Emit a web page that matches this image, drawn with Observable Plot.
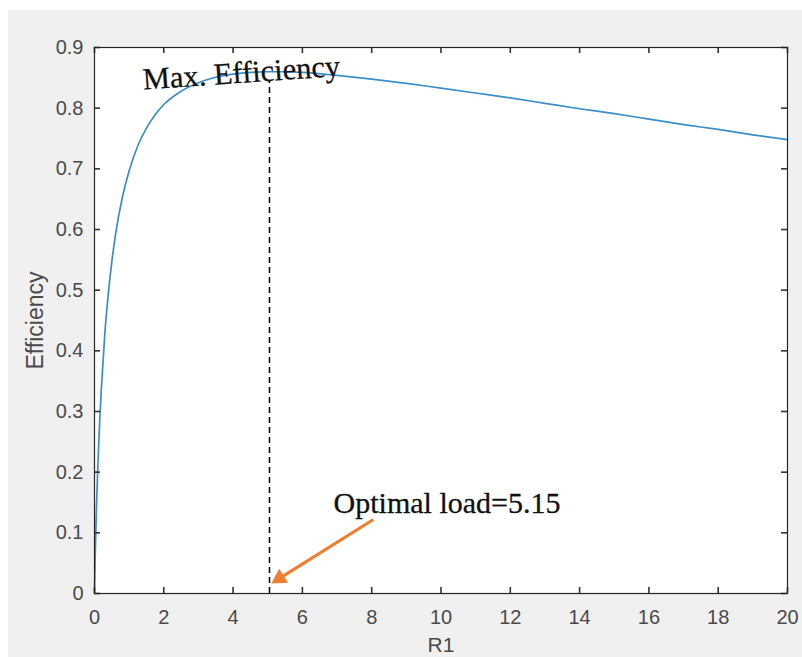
<!DOCTYPE html>
<html>
<head>
<meta charset="utf-8">
<script src="https://cdn.jsdelivr.net/npm/d3@7"></script>
<script src="https://cdn.jsdelivr.net/npm/@observablehq/plot@0.6"></script>
<style>
  body { margin: 10px 0 0 8px; background: #ffffff; }
  #chart svg { display: block; }
</style>
</head>
<body>
<div id="chart"></div>
<script>
// Load resistance R1 and efficiency
const r1 = [0, 0.02, 0.05, 0.1, 0.15, 0.2, 0.3, 0.4, 0.5, 0.6, 0.8, 1.0, 1.25, 1.5, 1.75, 2, 2.5, 3, 3.5, 4, 4.5, 5, 5.5, 6, 7, 8, 9, 10, 11, 12, 13, 14, 15, 16, 17, 18, 19, 20];
const efficiency = [0, 0.06, 0.13, 0.215, 0.285, 0.34, 0.43, 0.495, 0.547, 0.589, 0.652, 0.697, 0.738, 0.767, 0.789, 0.806, 0.828, 0.842, 0.851, 0.856, 0.859, 0.860, 0.860, 0.859, 0.854, 0.848, 0.841, 0.833, 0.825, 0.817, 0.808, 0.799, 0.791, 0.782, 0.773, 0.765, 0.756, 0.748];

const xTicks = [0, 2, 4, 6, 8, 10, 12, 14, 16, 18, 20];
const yTicks = [0, 0.1, 0.2, 0.3, 0.4, 0.5, 0.6, 0.7, 0.8, 0.9];

// Annotations
const optimalR = [5.05];
const optimalTop = [0.845];
const maxLabel = ["Max. Efficiency"];
const maxLabelPos = [4.24, 0.858];
const optLabel = ["Optimal load=5.15"];
const optLabelPos = [6.9, 0.149];
const arrowFrom = [8.05, 0.122];
const arrowHead = [5.34, 0.025];
const arrowAngle = [237.8];

const curve = r1.map((x, i) => ({x, y: efficiency[i]}));
const fmtY = d => d === 0 ? "0" : d.toFixed(1);

const W = 794, H = 647, ML = 86, MT = 37, MR = 15, MB = 64;
const innerW = W - ML - MR, innerH = H - MT - MB;
const tickLen = 6;
const xMax = 20, yMax = 0.9;
const tickDy = yMax * tickLen / innerH;   // tick length in y units
const tickDx = xMax * tickLen / innerW;   // tick length in x units

const tickColor = "#333333";
const labelColor = "#4a4a4a";
const serif = "'Liberation Serif', 'Times New Roman', serif";
const orange = "#ef7f2f";

const chart = Plot.plot({
  width: W,
  height: H,
  marginLeft: ML,
  marginTop: MT,
  marginRight: MR,
  marginBottom: MB,
  style: {background: "#f0f0f0", fontFamily: "'Liberation Sans', Arial, sans-serif", overflow: "visible"},
  x: {domain: [0, xMax]},
  y: {domain: [0, yMax]},
  marks: [
    Plot.frame({fill: "white"}),
    Plot.line(curve, {x: "x", y: "y", stroke: "#3a8fc8", strokeWidth: 1.7, curve: "monotone-x"}),
    Plot.ruleX(optimalR, {x: d => d, y1: 0, y2: optimalTop[0], stroke: "#000", strokeWidth: 1.5, strokeDasharray: "6,4"}),
    Plot.link([0], {x1: arrowFrom[0], y1: arrowFrom[1], x2: arrowHead[0], y2: arrowHead[1], stroke: orange, strokeWidth: 3.2}),
    Plot.dot([0], {x: arrowHead[0], y: arrowHead[1], symbol: "triangle2", r: 8, fill: orange, stroke: "none", rotate: arrowAngle[0]}),
    Plot.text(maxLabel, {x: maxLabelPos[0], y: maxLabelPos[1], text: d => d, rotate: -4, fontFamily: serif, fontSize: 30.5, fill: "#111", stroke: "#111", strokeWidth: 0.3}),
    Plot.text(optLabel, {x: optLabelPos[0], y: optLabelPos[1], text: d => d, textAnchor: "start", fontFamily: serif, fontSize: 30, fill: "#111", stroke: "#111", strokeWidth: 0.3}),
    // tick labels
    Plot.axisX({ticks: xTicks, tickSize: 0, tickPadding: 16, fontSize: 20, color: labelColor, label: null}),
    Plot.axisY({ticks: yTicks, tickSize: 0, tickPadding: 11, fontSize: 20, color: labelColor, tickFormat: fmtY, label: null}),
    // inward ticks on all four sides
    Plot.ruleX(xTicks, {x: d => d, y1: 0, y2: tickDy, stroke: tickColor, strokeWidth: 1.6}),
    Plot.ruleX(xTicks, {x: d => d, y1: yMax - tickDy, y2: yMax, stroke: tickColor, strokeWidth: 1.6}),
    Plot.ruleY(yTicks, {y: d => d, x1: 0, x2: tickDx, stroke: tickColor, strokeWidth: 1.6}),
    Plot.ruleY(yTicks, {y: d => d, x1: xMax - tickDx, x2: xMax, stroke: tickColor, strokeWidth: 1.6}),
    // axis titles
    Plot.text(["R1"], {frameAnchor: "bottom", dy: 52, lineAnchor: "middle", textAnchor: "middle", text: d => d, fontSize: 21, fill: labelColor}),
    Plot.text(["Efficiency"], {frameAnchor: "left", dx: -59, textAnchor: "middle", lineAnchor: "middle", text: d => d, rotate: -90, fontSize: 23, fill: labelColor}),
    Plot.frame({stroke: "#262626", strokeWidth: 1.2})
  ]
});
document.getElementById("chart").appendChild(chart);
</script>
</body>
</html>
